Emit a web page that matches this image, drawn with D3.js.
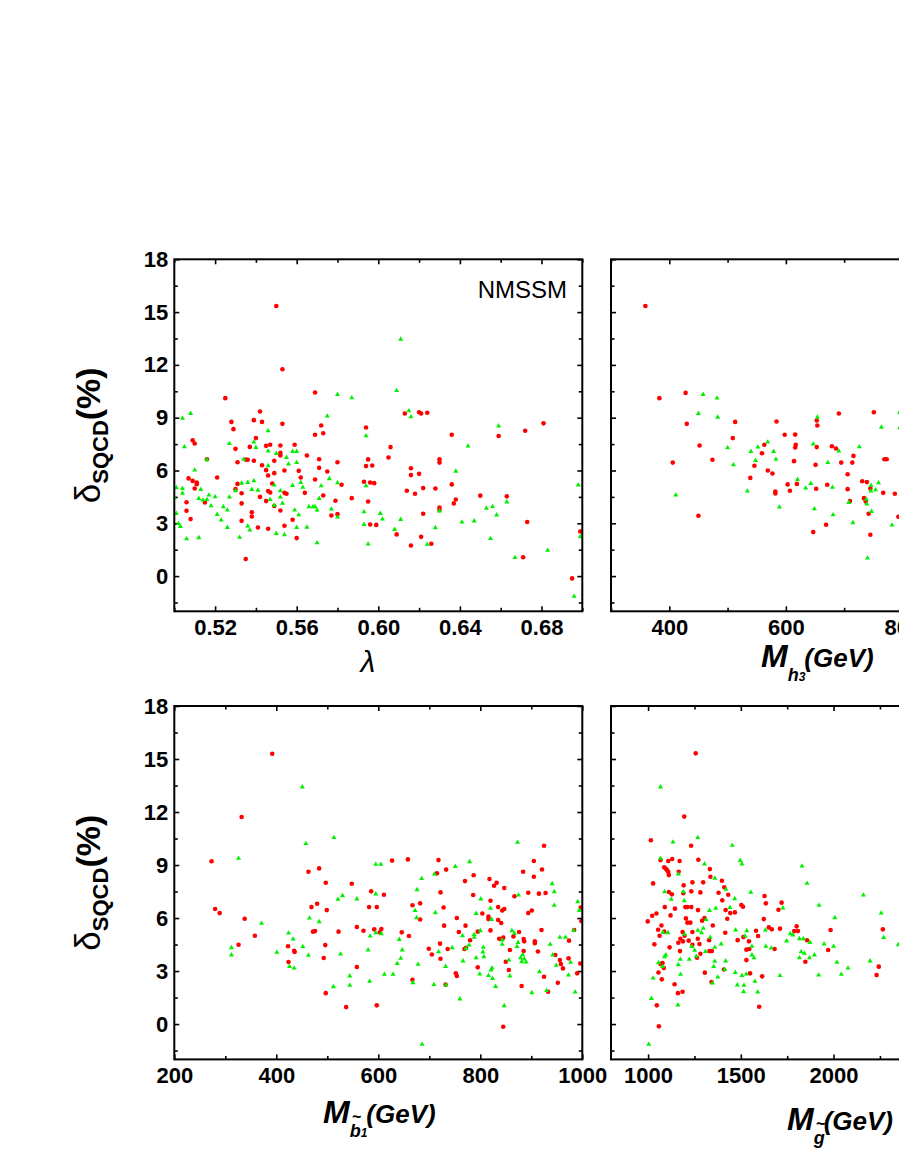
<!DOCTYPE html>
<html>
<head>
<meta charset="utf-8"/>
<title>NMSSM SQCD corrections</title>
<style>
body { margin: 0; background: #fff; overflow: hidden; }
svg text { font-family: "Liberation Sans", Arial, sans-serif; }
</style>
</head>
<body>
<div id="chart"></div>
<script src="https://cdn.jsdelivr.net/npm/d3@7"></script>
<script>

// ---- data: [x, delta_SQCD(%)] ----
var lambdaRed = [[0.550,15.35],[0.553,11.75],[0.525,10.11],[0.569,10.43],[0.542,9.35],[0.528,8.76],[0.539,8.86],[0.543,8.76],[0.529,8.35],[0.553,8.65],[0.569,8.03],[0.572,8.56],[0.573,8.12],[0.509,7.72],[0.510,7.53],[0.540,7.84],[0.530,7.23],[0.537,7.34],[0.545,7.40],[0.547,7.46],[0.552,7.42],[0.559,7.46],[0.552,7.00],[0.552,6.85],[0.565,6.85],[0.516,6.64],[0.535,6.62],[0.536,6.61],[0.531,6.47],[0.539,6.55],[0.549,6.55],[0.571,6.64],[0.543,6.30],[0.545,6.02],[0.554,6.00],[0.561,5.98],[0.575,5.94],[0.549,5.85],[0.571,6.15],[0.507,5.55],[0.521,5.60],[0.562,5.60],[0.509,5.41],[0.511,5.32],[0.511,5.22],[0.531,5.24],[0.546,5.72],[0.569,5.49],[0.548,5.26],[0.510,4.98],[0.530,4.94],[0.546,4.83],[0.547,4.75],[0.554,4.73],[0.555,4.68],[0.564,4.73],[0.533,4.71],[0.573,4.58],[0.542,4.50],[0.506,4.20],[0.515,4.18],[0.545,4.26],[0.579,4.28],[0.533,4.13],[0.549,3.98],[0.552,3.73],[0.506,3.71],[0.538,3.63],[0.538,3.39],[0.577,3.44],[0.580,3.52],[0.508,3.24],[0.533,3.14],[0.558,3.20],[0.554,2.86],[0.541,2.76],[0.546,2.69],[0.560,2.16],[0.535,0.97],
  [0.580,6.47],[0.582,5.19],[0.587,4.43],[0.594,8.44],[0.594,6.25],[0.595,6.63],[0.597,6.28],[0.593,5.36],[0.596,5.32],[0.598,5.28],[0.595,4.24],[0.596,2.93],[0.599,2.91],[0.606,7.33],[0.605,6.74],[0.609,2.37],[0.613,9.24],[0.620,9.31],[0.621,9.24],[0.624,9.28],[0.616,6.13],[0.616,5.74],[0.620,5.81],[0.614,4.85],[0.618,4.68],[0.622,5.00],[0.628,4.98],[0.622,3.54],[0.621,2.23],[0.616,1.74],[0.626,1.84],[0.630,6.45],[0.630,6.64],[0.630,3.90],[0.630,3.75],[0.636,8.03],[0.636,5.21],[0.637,4.13],[0.638,4.35],
  [0.659,7.96],[0.672,8.26],[0.681,8.68],[0.650,4.57],[0.663,4.53],[0.673,3.07],[0.671,1.07],[0.695,-0.13],[0.699,2.53]];
var lambdaGreen = [[0.611,13.46],[0.609,10.54],[0.580,10.32],[0.587,10.13],[0.575,9.09],[0.615,9.39],[0.616,9.05],[0.508,9.24],[0.504,8.97],[0.546,8.25],[0.594,7.97],[0.539,7.61],[0.505,7.34],[0.527,7.53],[0.540,7.31],[0.546,7.10],[0.558,7.08],[0.560,7.08],[0.550,6.97],[0.534,6.63],[0.516,6.61],[0.555,6.74],[0.546,6.27],[0.510,6.02],[0.556,6.36],[0.560,6.45],[0.638,5.96],[0.501,5.02],[0.504,4.98],[0.504,4.71],[0.500,4.45],[0.501,3.56],[0.502,2.99],[0.503,2.82],[0.506,2.12],[0.512,2.18],[0.513,4.92],[0.512,4.41],[0.514,4.32],[0.516,4.35],[0.517,4.60],[0.518,3.99],[0.520,4.50],[0.521,3.50],[0.523,3.18],[0.524,3.94],[0.526,3.75],[0.526,2.76],[0.527,4.49],[0.530,4.85],[0.533,5.28],[0.536,5.32],[0.539,5.41],[0.538,4.92],[0.541,4.88],[0.532,2.20],[0.536,2.84],[0.537,2.61],[0.547,4.35],[0.549,4.03],[0.549,5.17],[0.550,2.42],[0.552,4.85],[0.552,4.49],[0.553,4.13],[0.554,2.35],[0.558,5.15],[0.559,3.75],[0.560,2.76],[0.561,3.48],[0.562,5.32],[0.563,5.04],[0.565,2.78],[0.566,3.94],[0.568,3.94],[0.569,3.94],[0.570,3.75],[0.570,1.89],[0.571,4.41],[0.572,5.13],[0.576,5.53],[0.577,3.81],[0.580,3.35],[0.580,5.30],[0.593,3.65],[0.593,2.93],[0.594,5.13],[0.595,1.82],[0.601,3.56],[0.602,3.24],[0.608,2.65],[0.611,3.22],[0.624,1.80],[0.628,2.75],[0.630,3.70],
  [0.659,8.53],[0.644,7.39],[0.653,3.85],[0.656,3.95],[0.658,3.47],[0.663,4.21],[0.641,3.07],[0.647,3.13],[0.655,2.13],[0.667,1.05],[0.683,1.46],[0.698,5.18],[0.699,2.24],[0.696,-1.15]];

var mh3Red = [[359,15.35],[383,10.11],[428,10.41],[430,8.65],[406,6.45],[452,7.42],[450,3.43],[474,6.61],[509,7.84],[513,8.76],[539,5.58],[546,6.27],[559,6.98],[563,7.46],[569,6.00],[577,5.83],[582,4.81],[582,4.69],[584,8.78],[598,8.03],[603,5.21],[607,4.85],[616,8.04],[617,7.46],[616,7.31],[614,6.53],[619,5.24],[653,8.84],[654,8.56],[653,7.33],[651,6.32],[652,4.96],[647,2.50],[679,7.38],[686,7.25],[691,9.24],[695,6.45],[671,5.19],[669,2.92],[706,5.79],[706,4.94],[710,4.26],[716,6.83],[714,6.45],[731,5.39],[734,4.43],[737,4.24],[739,5.34],[745,4.98],[742,3.54],[745,2.35],[751,9.31],[767,4.73],[769,6.64],[773,6.64],[787,4.68],[793,3.37]];
var mh3Green = [[411,4.60],[450,9.24],[458,10.32],[482,10.11],[483,9.03],[500,7.29],[510,6.32],[534,4.83],[540,7.08],[548,6.57],[552,7.33],[569,7.61],[579,7.08],[583,6.63],[589,3.92],[620,5.49],[634,5.00],[643,5.26],[647,7.51],[649,3.82],[654,9.03],[672,6.45],[680,5.04],[681,3.48],[691,7.10],[708,4.18],[715,3.03],[726,7.34],[738,4.37],[739,4.09],[740,1.02],[746,5.15],[746,4.83],[747,3.67],[754,4.90],[759,5.30],[764,8.46],[782,2.90],[795,9.29],[795,8.42]];

var mb1Red = [[392,15.30],[332,11.72],[273,9.21],[280,6.51],[289,6.28],[338,5.96],[358,5.00],[326,4.49],[423,4.40],[424,3.51],[435,4.15],[436,4.08],[463,8.62],[484,8.81],[469,6.62],[480,6.81],[472,5.23],[476,5.26],[497,8.00],[499,6.45],[496,4.47],[493,3.74],[497,1.75],[522,5.23],[548,7.94],[558,5.49],[558,3.23],[537,0.96],[571,5.28],[582,6.62],[586,7.51],[592,5.36],[597,6.62],[603,5.19],[606,5.38],[611,7.32],[597,1.06],[627,9.25],[646,5.19],[660,4.98],[658,9.32],[667,6.72],[682,6.83],[682,5.92],[667,2.51],[699,4.26],[705,3.94],[715,8.53],[718,9.28],[722,7.45],[721,4.55],[722,3.70],[728,6.60],[729,5.57],[733,8.74],[736,4.25],[732,2.23],[754,6.00],[758,5.21],[752,2.87],[754,2.72],
  [925,10.09],[905,9.23],[921,8.75],[884,8.62],[905,8.34],[787,8.42],[770,8.09],[818,8.21],[827,7.83],[832,8.00],[847,7.70],[786,7.30],[820,6.98],[835,6.62],[843,6.43],[847,6.51],[867,7.23],[894,7.43],[915,7.38],[928,7.42],[894,6.28],[901,6.43],[804,6.26],[816,6.08],[816,5.94],[835,5.89],[841,5.72],[771,5.57],[820,5.30],[795,5.23],[780,4.74],[769,4.25],[772,4.32],[845,4.89],[837,4.83],[865,4.96],[876,5.21],[885,4.81],[886,4.68],[907,4.68],[907,4.57],[885,4.13],[913,4.11],[920,5.32],[858,4.19],[850,3.53],[856,3.06],[795,3.21],[881,2.15],[925,2.68],[933,1.83],[845,-0.15],[947,3.91],[956,3.62],[958,3.40],[962,3.15],[952,2.34],[973,3.72],[974,4.72],[984,5.32],[990,2.87],[996,3.43],[998,5.83],[997,6.60]];
var mb1Green = [[451,13.42],[513,10.55],[458,10.21],[326,9.38],[595,9.04],[605,9.04],[530,7.26],[521,7.06],[558,7.08],[595,7.36],[465,6.00],[484,5.79],[371,5.70],[424,5.15],[433,4.81],[312,4.32],[312,3.91],[401,4.06],[452,4.38],[463,3.89],[426,3.25],[435,3.17],[526,3.96],[544,2.72],[544,2.19],[512,2.11],[583,2.42],[584,4.98],[580,4.19],[595,5.17],[606,5.11],[612,2.81],[629,2.81],[637,3.43],[641,4.79],[644,3.72],[647,4.19],[668,2.34],[672,6.42],[675,6.02],[676,7.60],[678,3.38],[685,8.23],[710,8.49],[712,6.30],[709,2.23],[718,4.09],[732,3.26],[733,2.21],[745,4.32],[751,8.92],[686,-1.15],[760,1.42],
  [873,10.28],[779,9.19],[941,7.94],[945,7.49],[801,7.08],[875,7.30],[945,6.72],[991,6.92],[820,6.55],[792,6.26],[822,5.92],[800,5.28],[788,5.06],[788,4.91],[765,5.00],[778,4.47],[772,4.28],[792,3.75],[806,4.34],[805,4.08],[807,3.81],[799,2.83],[766,3.57],[816,2.74],[821,3.06],[823,3.17],[824,2.58],[830,2.13],[843,4.75],[843,4.51],[847,1.04],[856,3.62],[858,2.72],[862,5.28],[867,5.13],[872,4.38],[874,4.62],[879,3.75],[883,3.92],[881,3.53],[886,3.68],[890,3.51],[901,1.77],[916,2.96],[930,1.89],[937,4.51],[942,3.91],[949,3.32],[956,4.91],[967,4.91],[973,2.77],[977,3.49],[983,5.30],[986,1.81],[994,6.43]];

var mgRed = [[1257,15.32],[1195,11.74],[1015,10.40],[1232,10.09],[1067,9.28],[1130,9.34],[1109,9.23],[1170,9.23],[1271,9.30],[1087,8.87],[1096,8.79],[1103,8.70],[1109,8.60],[1112,8.43],[1165,8.62],[1027,7.96],[1192,7.85],[1239,8.02],[1297,8.02],[1333,8.77],[1336,8.34],[1398,8.11],[1411,7.74],[1112,7.47],[1128,7.34],[1190,7.40],[1233,7.51],[1282,7.45],[1380,7.43],[1432,7.32],[1400,7.00],[1090,6.62],[1145,6.53],[1201,6.62],[1212,6.62],[1233,6.62],[1269,6.45],[1418,6.45],[1443,6.28],[1468,6.32],[1121,6.15],[1045,6.26],[1022,6.13],[998,5.81],[1204,5.98],[1212,5.74],[1228,5.74],[1291,5.85],[1304,6.00],[1427,5.96],[1072,5.58],[1054,5.34],[1087,5.23],[1062,5.00],[1186,5.21],[1239,5.21],[1349,5.58],[1197,5.00],[1174,4.83],[1163,4.60],[1188,4.68],[1219,4.72],[1268,4.83],[1329,4.75],[1277,4.53],[1416,5.17],[1172,4.13],[1239,4.49],[1282,3.98],[1264,3.75],[1116,4.34],[1034,4.51],[1078,3.45],[1067,3.40],[1085,3.17],[1056,2.92],[1074,2.53],[1143,2.25],[1161,1.75],[1186,1.83],[1047,1.06],[1058,-0.13],[1306,2.91],[1331,4.13],[1344,4.13],[1342,2.38],[1409,3.09],[1483,4.75],[1514,4.92],[1530,4.21],[1530,3.62],[1546,4.25],[1544,4.68],[1550,2.87],[1503,6.74],[1512,6.64],[1593,4.98],[1582,5.28],[1599,0.98],[1615,2.70],[1624,5.94],[1628,7.25],[1635,6.83],[1651,5.47],[1667,5.36],[1682,4.25],[1703,6.47],[1711,5.40],[1720,6.87],[1788,5.26],[1801,5.53],[1808,5.26],[1848,3.53],[1857,4.74],[1971,4.19],[1984,5.32],[2232,2.77],[2244,3.25],[2266,5.36]];
var mgGreen = [[1067,13.42],[1004,-1.15],[1018,1.45],[1027,2.60],[1056,3.47],[1067,9.38],[1089,7.49],[1125,7.06],[1134,10.30],[1163,8.49],[1190,7.49],[1078,3.25],[1089,3.81],[1096,3.92],[1107,5.17],[1080,5.19],[1161,1.08],[1163,3.36],[1174,3.66],[1175,2.81],[1195,6.98],[1197,5.08],[1222,3.66],[1235,4.38],[1251,4.17],[1260,3.83],[1268,10.55],[1268,5.30],[1288,5.17],[1298,5.42],[1304,9.06],[1313,5.92],[1309,4.11],[1331,6.43],[1335,4.91],[1354,3.25],[1360,3.55],[1360,8.25],[1365,6.55],[1360,4.34],[1347,2.32],[1376,2.66],[1394,4.53],[1414,3.09],[1418,3.57],[1420,7.62],[1441,6.60],[1454,10.11],[1467,7.09],[1472,5.32],[1470,2.92],[1481,2.21],[1497,9.25],[1506,9.06],[1506,2.74],[1515,1.83],[1517,2.19],[1523,4.98],[1532,5.28],[1530,2.83],[1554,7.45],[1560,4.40],[1560,3.91],[1571,3.75],[1576,2.42],[1591,1.81],[1633,5.32],[1635,4.40],[1664,4.30],[1711,2.74],[1727,6.57],[1747,4.70],[1767,5.11],[1781,5.04],[1816,4.83],[1830,8.94],[1816,3.75],[1825,4.09],[1837,4.83],[1843,4.00],[1857,7.96],[1873,4.62],[1870,3.75],[1897,3.91],[1922,6.72],[1920,2.77],[1949,4.53],[2000,4.40],[2007,6.02],[2018,3.49],[2042,2.81],[2078,3.17],[2161,7.30],[2197,3.57],[2257,6.28],[2270,4.89],[2349,4.49]];

// ---- ticks ----
var yMajor = [0, 3, 6, 9, 12, 15, 18];
var yMinor = [-1.5, 1.5, 4.5, 7.5, 10.5, 13.5, 16.5];
var lambdaMajor = [0.52, 0.56, 0.60, 0.64, 0.68];
var lambdaMinor = [0.50, 0.54, 0.58, 0.62, 0.66, 0.70];
var mh3Major = [400, 600, 800, 1000];
var mh3Minor = [300, 500, 700, 900];
var mb1Major = [200, 400, 600, 800, 1000];
var mb1Minor = [300, 500, 700, 900];
var mgMajor = [1000, 1500, 2000, 2500, 3000];
var mgMinor = [1250, 1750, 2250, 2750];

var W = 899, H = 1163;
var svg = d3.select("#chart").append("svg")
    .attr("width", W)
    .attr("height", H);
svg.append("rect").attr("width", W).attr("height", H).attr("fill", "#fff");

var clipId = 0;

function drawPanel(p) {
  var x = d3.scaleLinear().domain(p.xDomain).range([p.left, p.right]);
  var y = d3.scaleLinear().domain([-2, 18]).range([p.bottom, p.top]);
  var g = svg.append("g");

  // inward ticks, all four sides
  function axisGroup(axis, tx, ty) {
    var a = g.append("g").attr("transform", "translate(" + tx + "," + ty + ")").call(axis);
    a.select(".domain").remove();
    a.selectAll(".tick line").attr("stroke", "#000").attr("stroke-width", 1.6);
    a.selectAll("text")
      .attr("fill", "#000")
      .style("font-family", "'Liberation Sans', Arial, sans-serif")
      .style("font-size", "22px")
      .style("font-weight", "bold");
    return a;
  }

  axisGroup(d3.axisBottom(x).tickValues(p.xMajor).tickSize(-5).tickPadding(8).tickFormat(p.xFormat), 0, p.bottom);
  axisGroup(d3.axisBottom(x).tickValues(p.xMinor).tickSize(-3.5).tickFormat(""), 0, p.bottom);
  axisGroup(d3.axisTop(x).tickValues(p.xMajor).tickSize(-5).tickFormat(""), 0, p.top);
  axisGroup(d3.axisTop(x).tickValues(p.xMinor).tickSize(-3.5).tickFormat(""), 0, p.top);
  axisGroup(d3.axisLeft(y).tickValues(yMajor).tickSize(-5).tickPadding(6)
    .tickFormat(p.showY ? d3.format("d") : ""), p.left, 0);
  axisGroup(d3.axisLeft(y).tickValues(yMinor).tickSize(-3.5).tickFormat(""), p.left, 0);
  axisGroup(d3.axisRight(y).tickValues(yMajor).tickSize(-5).tickFormat(""), p.right, 0);
  axisGroup(d3.axisRight(y).tickValues(yMinor).tickSize(-3.5).tickFormat(""), p.right, 0);

  var id = "clip" + (clipId++);
  svg.append("clipPath").attr("id", id).append("rect")
    .attr("x", p.left).attr("y", p.top)
    .attr("width", p.right - p.left).attr("height", p.bottom - p.top);
  var pts = g.append("g").attr("clip-path", "url(#" + id + ")");

  pts.selectAll("circle").data(p.red).enter().append("circle")
    .attr("cx", function(d) { return x(d[0]); })
    .attr("cy", function(d) { return y(d[1]); })
    .attr("r", 2.3)
    .attr("fill", "#ff0000");

  pts.selectAll("path.tri").data(p.green).enter().append("path")
    .attr("class", "tri")
    .attr("d", d3.symbol().type(d3.symbolTriangle).size(11))
    .attr("transform", function(d) { return "translate(" + x(d[0]) + "," + y(d[1]) + ")"; })
    .attr("fill", "#00f000");

  g.append("rect")
    .attr("x", p.left).attr("y", p.top)
    .attr("width", p.right - p.left).attr("height", p.bottom - p.top)
    .attr("fill", "none").attr("stroke", "#000").attr("stroke-width", 2);
}

var L = [174.3, 582.3], R = [611, 1019];
var T = [259.3, 611.3], B = [706, 1059.4];

drawPanel({left: L[0], right: L[1], top: T[0], bottom: T[1], xDomain: [0.50, 0.70],
  xMajor: lambdaMajor, xMinor: lambdaMinor, xFormat: d3.format(".2f"), showY: true,
  red: lambdaRed, green: lambdaGreen});
drawPanel({left: R[0], right: R[1], top: T[0], bottom: T[1], xDomain: [300, 1000],
  xMajor: mh3Major, xMinor: mh3Minor, xFormat: d3.format("d"), showY: false,
  red: mh3Red, green: mh3Green});
drawPanel({left: L[0], right: L[1], top: B[0], bottom: B[1], xDomain: [200, 1000],
  xMajor: mb1Major, xMinor: mb1Minor, xFormat: d3.format("d"), showY: true,
  red: mb1Red, green: mb1Green});
drawPanel({left: R[0], right: R[1], top: B[0], bottom: B[1], xDomain: [800, 3000],
  xMajor: mgMajor, xMinor: mgMinor, xFormat: d3.format("d"), showY: false,
  red: mgRed, green: mgGreen});

// model label
svg.append("text").attr("x", 567).attr("y", 298)
  .attr("text-anchor", "end").style("font-size", "24px").text("NMSSM");

// y axis titles
[ (T[0] + T[1]) / 2, (B[0] + B[1]) / 2 ].forEach(function(cy) {
  var t = svg.append("text")
    .attr("transform", "translate(100," + cy + ") rotate(-90)")
    .attr("text-anchor", "middle");
  t.append("tspan").style("font-size", "35px").text("δ");
  t.append("tspan").attr("dy", 8).style("font-size", "22px").style("font-weight", "bold").text("SQCD");
  t.append("tspan").attr("dy", -8).style("font-size", "34px").style("font-weight", "bold").text("(%)");
});

// x axis titles
svg.append("text").attr("x", 368).attr("y", 672)
  .attr("text-anchor", "middle").style("font-size", "30px").style("font-style", "italic").text("λ");

function massLabel(x0, base, sub, sub2, tilde) {
  var g = svg.append("g").style("font-weight", "bold").style("font-style", "italic");
  var m = g.append("text").attr("x", x0).attr("y", base).style("font-size", "32px").text("M");
  var w = m.node().getComputedTextLength();
  var s = g.append("text").attr("x", x0 + w).attr("y", base + 14);
  s.append("tspan").style("font-size", "18px").text(sub);
  if (sub2) s.append("tspan").style("font-size", "12px").text(sub2);
  var sw = s.node().getComputedTextLength();
  if (tilde) g.append("text").attr("x", x0 + w + 2).attr("y", base - 1)
    .style("font-size", "16px").text("~");
  g.append("text").attr("x", x0 + w + sw - 1).attr("y", base).style("font-size", "26px").text("(GeV)");
}
massLabel(761, 667, "h", "3", false);
massLabel(323, 1123, "b", "1", true);
massLabel(787, 1130, "g", "", true);

</script>
</body>
</html>
